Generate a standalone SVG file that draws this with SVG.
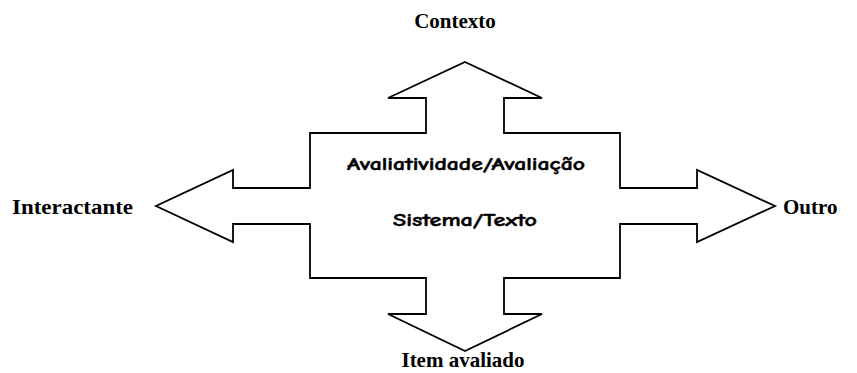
<svg xmlns="http://www.w3.org/2000/svg" width="857" height="373" viewBox="0 0 857 373">
<style>
.shape{fill:#fff;stroke:#000;stroke-width:1.8;stroke-linejoin:miter}
.lbl{font-family:"Liberation Serif","Times New Roman",serif;font-weight:bold;font-size:21px;fill:#000}
.inner{font-family:"Comic Neue","Open Sans","DejaVu Sans",sans-serif;font-weight:bold;font-size:17.5px;fill:#000;stroke:#000;stroke-width:0.45}
</style>
<rect width="857" height="373" fill="#fff"/>
<g id="cross">
<polygon class="shape" points="465,62 542,98 504,98 504,133 620,133 620,188 697,188 697,170 775,206 697,242 697,224 620,224 620,278 504,278 504,314 542,314 465,351 388,314 426,314 426,278 310,278 310,224 233,224 233,242 156,206 233,170 233,188 310,188 310,133 426,133 426,98 388,98"/>
<text class="inner" x="466" y="170" text-anchor="middle" textLength="238" lengthAdjust="spacingAndGlyphs">Avaliatividade/Avaliação</text>
<text class="inner" x="465" y="226" text-anchor="middle" textLength="144" lengthAdjust="spacingAndGlyphs">Sistema/Texto</text>
</g>
<g id="contexto"><text class="lbl" x="455" y="28" text-anchor="middle">Contexto</text></g>
<g id="interactante"><text class="lbl" x="12" y="214" font-size="22" textLength="121" lengthAdjust="spacingAndGlyphs">Interactante</text></g>
<g id="outro"><text class="lbl" x="783" y="214">Outro</text></g>
<g id="item"><text class="lbl" x="463" y="367" text-anchor="middle">Item avaliado</text></g>
</svg>
